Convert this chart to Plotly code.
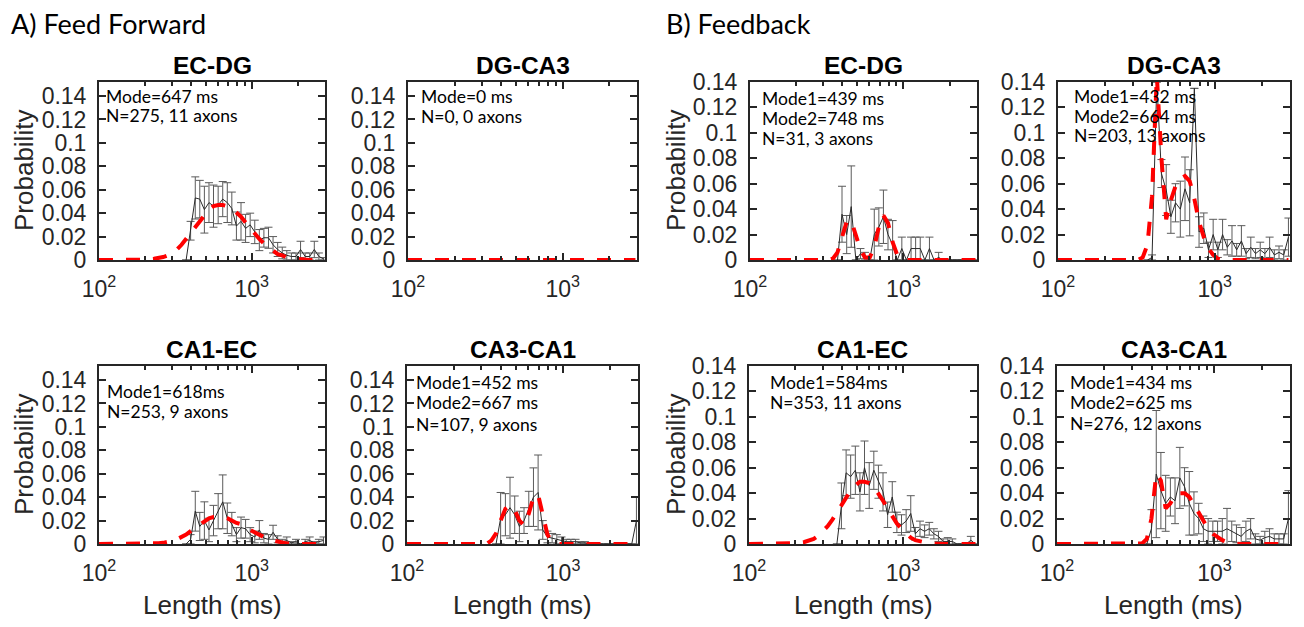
import plotly.graph_objects as go

W, H = 1304, 627

# ---------------- data ----------------
data_ms = [372, 398, 427, 457, 490, 525, 562, 603, 646, 692, 741, 794, 851, 912, 977,
           1047, 1122, 1202, 1288, 1380, 1479, 1585, 1698, 1820, 1950, 2089, 2239, 2399,
           2570, 2754, 2951]
fit_ms = [100, 150, 200, 229, 245, 263, 282, 302, 324, 347] + data_ms

# Feed forward EC-DG
ff_ecdg_p = [0, 0.025, 0.053, 0.052, 0.043, 0.049, 0.046, 0.047, 0.052, 0.049, 0.044, 0.029,
             0.033, 0.027, 0.030, 0.024, 0.017, 0.019, 0.019, 0.013, 0.009, 0.006, 0.004, 0.003,
             0.003, 0.009, 0.003, 0.003, 0.009, 0.003, 0.001]
ff_ecdg_e = [0, 0.008, 0.018, 0.016, 0.020, 0.017, 0.018, 0.016, 0.015, 0.017, 0.014, 0.012,
             0.016, 0.012, 0.010, 0.010, 0.009, 0.008, 0.009, 0.007, 0.006, 0.005, 0.004, 0.003,
             0.003, 0.007, 0.003, 0.003, 0.007, 0.003, 0.001]
ff_ecdg_fit = [0, 0, 0.0003, 0.001, 0.0015, 0.0025, 0.004, 0.006, 0.009, 0.013, 0.018, 0.023,
               0.029, 0.034, 0.039, 0.043, 0.046, 0.047, 0.047, 0.046, 0.044, 0.041, 0.037, 0.032,
               0.027, 0.022, 0.018, 0.014, 0.010, 0.008, 0.005, 0.004, 0.002, 0.0015, 0.001,
               0.0005, 0.0002, 0, 0, 0, 0]

# Feed forward DG-CA3 (no axons)
ff_dgca3_p = []
ff_dgca3_e = []
ff_dgca3_fit = [0] * 41

# Feed forward CA1-EC
ff_ca1ec_p = [0, 0.004, 0.028, 0.015, 0.020, 0.012, 0.020, 0.028, 0.036, 0.022, 0.017, 0.008,
              0.014, 0.013, 0.008, 0.006, 0.012, 0.005, 0.004, 0.010, 0.004, 0.002, 0.003, 0.001,
              0.002, 0.000, 0.002, 0.003, 0.001, 0.002, 0.003]
ff_ca1ec_e = [0, 0.004, 0.017, 0.012, 0.016, 0.010, 0.013, 0.015, 0.023, 0.013, 0.010, 0.006,
              0.009, 0.008, 0.006, 0.005, 0.008, 0.004, 0.004, 0.006, 0.003, 0.002, 0.003, 0.001,
              0.002, 0, 0.002, 0.003, 0.001, 0.002, 0.003]
ff_ca1ec_fit = [0, 0, 0.0001, 0.0004, 0.0006, 0.001, 0.0017, 0.0027, 0.004, 0.006, 0.008, 0.011,
                0.014, 0.017, 0.020, 0.022, 0.023, 0.023, 0.023, 0.022, 0.020, 0.018, 0.017,
                0.015, 0.012, 0.010, 0.008, 0.006, 0.004, 0.003, 0.002, 0.001, 0.0005, 0.0002,
                0, 0, 0, 0, 0, 0, 0]

# Feed forward CA3-CA1
ff_ca3ca1_p = [0, 0.022, 0.025, 0.031, 0.025, 0.015, 0.020, 0.030, 0.040, 0.044, 0.012, 0.006,
               0.005, 0.004, 0.003, 0.002, 0.002, 0.002, 0.001, 0.001, 0, 0, 0, 0, 0, 0, 0, 0,
               0, 0, 0.020]
ff_ca3ca1_e = [0, 0.022, 0.018, 0.026, 0.016, 0.013, 0.011, 0.015, 0.025, 0.032, 0.008, 0.005,
               0.004, 0.004, 0.003, 0.002, 0.002, 0.002, 0.001, 0.001, 0, 0, 0, 0, 0, 0, 0, 0,
               0, 0, 0.020]
ff_ca3ca1_fit = [0, 0, 0, 0, 0, 0, 0, 0, 0, 0.003, 0.009, 0.020, 0.030, 0.033, 0.029, 0.020,
                 0.016, 0.026, 0.040, 0.042, 0.025, 0.008, 0.002, 0, 0, 0, 0, 0, 0, 0, 0, 0, 0,
                 0, 0, 0, 0, 0, 0, 0, 0]

# Feedback EC-DG
fb_ecdg_p = [0, 0.036, 0.020, 0.042, 0.000, 0.005, 0.003, 0.000, 0.020, 0.026, 0.034, 0.020,
             0.012, 0.000, 0.009, 0.000, 0.009, 0.009, 0.009, 0.000, 0.009, 0.000, 0.002, 0, 0,
             0, 0, 0, 0, 0, 0]
fb_ecdg_e = [0, 0.022, 0.015, 0.032, 0, 0.004, 0.003, 0, 0.020, 0.015, 0.021, 0.012, 0.019, 0,
             0.009, 0, 0.009, 0.009, 0.009, 0, 0.009, 0, 0.004, 0, 0, 0, 0, 0, 0, 0, 0]
fb_ecdg_fit = [0, 0, 0, 0, 0, 0, 0, 0, 0, 0.001, 0.006, 0.018, 0.030, 0.031, 0.020, 0.008,
               0.002, 0.002, 0.010, 0.026, 0.035, 0.029, 0.014, 0.004, 0.001, 0, 0, 0, 0, 0, 0,
               0, 0, 0, 0, 0, 0, 0, 0, 0, 0]

# Feedback DG-CA3
fb_dgca3_p = [0, 0.002, 0.140, 0.068, 0.055, 0.034, 0.045, 0.040, 0.056, 0.045, 0.135, 0.022,
              0.025, 0.008, 0.020, 0.008, 0.020, 0.010, 0.015, 0.008, 0.015, 0.005, 0.010, 0.005,
              0.008, 0.005, 0.010, 0.004, 0.006, 0.004, 0.018]
fb_dgca3_e = [0, 0.002, 0.0, 0.011, 0.020, 0.013, 0.015, 0.022, 0.025, 0.026, 0, 0.012, 0.012,
              0.006, 0.012, 0.006, 0.012, 0.006, 0.012, 0.005, 0.012, 0.004, 0.008, 0.004, 0.006,
              0.004, 0.008, 0.004, 0.005, 0.004, 0.015]
fb_dgca3_fit = [0, 0, 0, 0, 0, 0, 0, 0, 0, 0.002, 0.012, 0.050, 0.145, 0.080, 0.032, 0.047,
                0.058, 0.064, 0.066, 0.062, 0.048, 0.030, 0.018, 0.009, 0.004, 0.001, 0, 0, 0, 0,
                0, 0, 0, 0, 0, 0, 0, 0, 0, 0, 0]

# Feedback CA1-EC
fb_ca1ec_p = [0, 0.030, 0.056, 0.053, 0.058, 0.041, 0.060, 0.046, 0.058, 0.049, 0.041, 0.023,
              0.037, 0.017, 0.015, 0.018, 0.024, 0.008, 0.012, 0.010, 0.012, 0.008, 0.006, 0.002,
              0.002, 0.002, 0.0, 0.0, 0.0, 0.003, 0.0]
fb_ca1ec_e = [0, 0.018, 0.018, 0.017, 0.019, 0.015, 0.021, 0.018, 0.015, 0.013, 0.015, 0.010,
              0.012, 0.008, 0.008, 0.009, 0.014, 0.005, 0.006, 0.005, 0.005, 0.004, 0.004, 0.002,
              0.003, 0.002, 0, 0, 0, 0.003, 0]
fb_ca1ec_fit = [0, 0, 0.0007, 0.0016, 0.0025, 0.004, 0.0065, 0.010, 0.014, 0.019, 0.025, 0.031,
                0.037, 0.042, 0.046, 0.049, 0.049, 0.048, 0.045, 0.040, 0.034, 0.028, 0.022,
                0.016, 0.012, 0.008, 0.005, 0.003, 0.002, 0.001, 0.0006, 0.0003, 0, 0, 0, 0, 0,
                0, 0, 0, 0]

# Feedback CA3-CA1
fb_ca3ca1_p = [0, 0.012, 0.055, 0.042, 0.032, 0.037, 0.034, 0.052, 0.045, 0.032, 0.024, 0.020,
               0.012, 0.010, 0.010, 0.010, 0.010, 0.012, 0.010, 0.008, 0.006, 0.010, 0.012, 0.004,
               0.003, 0.005, 0.006, 0.004, 0.004, 0.004, 0.020]
fb_ca3ca1_e = [0, 0.015, 0.050, 0.030, 0.022, 0.015, 0.018, 0.024, 0.015, 0.025, 0.017, 0.012,
               0.010, 0.010, 0.008, 0.008, 0.010, 0.016, 0.008, 0.007, 0.007, 0.008, 0.008, 0.004,
               0.003, 0.005, 0.006, 0.004, 0.004, 0.004, 0.022]
fb_ca3ca1_fit = [0, 0, 0, 0, 0, 0, 0, 0, 0, 0.0005, 0.004, 0.020, 0.055, 0.050, 0.028, 0.032,
                 0.039, 0.040, 0.040, 0.037, 0.031, 0.025, 0.018, 0.012, 0.008, 0.005, 0.003,
                 0.0015, 0.0007, 0.0003, 0, 0, 0, 0, 0, 0, 0, 0, 0, 0, 0]

titles = ["EC-DG", "DG-CA3", "EC-DG", "DG-CA3", "CA1-EC", "CA3-CA1", "CA1-EC", "CA3-CA1"]
stats = [
    ["Mode=647 ms", "N=275, 11 axons"],
    ["Mode=0 ms", "N=0, 0 axons"],
    ["Mode1=439 ms", "Mode2=748 ms", "N=31, 3 axons"],
    ["Mode1=432 ms", "Mode2=664 ms", "N=203, 13 axons"],
    ["Mode1=618ms", "N=253, 9 axons"],
    ["Mode1=452 ms", "Mode2=667 ms", "N=107, 9 axons"],
    ["Mode1=584ms", "N=353, 11 axons"],
    ["Mode1=434 ms", "Mode2=625 ms", "N=276, 12 axons"],
]
probs = [ff_ecdg_p, ff_dgca3_p, fb_ecdg_p, fb_dgca3_p, ff_ca1ec_p, ff_ca3ca1_p, fb_ca1ec_p, fb_ca3ca1_p]
errs = [ff_ecdg_e, ff_dgca3_e, fb_ecdg_e, fb_dgca3_e, ff_ca1ec_e, ff_ca3ca1_e, fb_ca1ec_e, fb_ca3ca1_e]
fits = [ff_ecdg_fit, ff_dgca3_fit, fb_ecdg_fit, fb_dgca3_fit, ff_ca1ec_fit, ff_ca3ca1_fit,
        fb_ca1ec_fit, fb_ca3ca1_fit]

y_ticks = [0, 0.02, 0.04, 0.06, 0.08, 0.1, 0.12, 0.14]
y_tick_text = ["0", "0.02", "0.04", "0.06", "0.08", "0.1", "0.12", "0.14"]
x_ticks = [100, 1000]
x_tick_text = ["10<sup>2</sup>", "10<sup>3</sup>"]
x_minor = [200, 300, 400, 500, 600, 700, 800, 900, 2000, 3000]

# ---------------- layout (pixels) ----------------
boxes = [(99, 82, 325, 260), (408, 82, 637, 260), (750, 82, 977, 260), (1058, 82, 1290, 260),
         (99, 366, 325, 544), (407, 366, 638, 544), (749, 366, 977, 544), (1057, 366, 1290, 544)]
ymax = [0.152, 0.152, 0.14, 0.14, 0.152, 0.152, 0.14, 0.14]
stat_pos = [(104, 97, 18), (419, 96, 20), (760, 98, 20), (1072, 96, 20),
            (105, 391, 20), (414, 382, 21), (768, 382, 20), (1068, 382, 20.5)]


def px(x):
    return x / W


def py(y):
    return 1 - y / H


AX = "#262626"
TICKFONT = dict(family="Liberation Sans, Arial, sans-serif", size=23, color=AX)

fig = go.Figure()
layout = dict(template="none", width=W, height=H,
              margin=dict(l=0, r=0, t=0, b=0, pad=0, autoexpand=False),
              paper_bgcolor="white", plot_bgcolor="white", showlegend=False)
annotations = []

for i in range(8):
    k = i + 1
    xa, ya = ("x" if k == 1 else f"x{k}"), ("y" if k == 1 else f"y{k}")
    x0, y0, x1, y1 = boxes[i]
    if probs[i]:
        fig.add_trace(go.Scatter(
            x=data_ms, y=probs[i], mode="lines", xaxis=xa, yaxis=ya,
            line=dict(color="#2a2a2a", width=1),
            error_y=dict(type="data", array=errs[i], visible=True, color="#5a5a5a",
                         thickness=1, width=4)))
    fig.add_trace(go.Scatter(
        x=fit_ms, y=fits[i], mode="lines", xaxis=xa, yaxis=ya,
        line=dict(color="#ff0000", width=4, dash="14px,13px")))

    layout["xaxis" if k == 1 else f"xaxis{k}"] = dict(
        domain=[px(x0), px(x1)], anchor=ya, type="log", range=[2, 3.48], automargin=False,
        tickmode="array", tickvals=x_ticks, ticktext=x_tick_text,
        ticks="inside", ticklen=7, tickwidth=2, tickcolor=AX,
        showline=True, linewidth=2, linecolor=AX, mirror="allticks",
        showgrid=False, zeroline=False, tickfont=TICKFONT, ticklabelstandoff=7,
        minor=dict(tickmode="array", tickvals=x_minor, ticks="inside", ticklen=4,
                   tickwidth=1.5, tickcolor=AX, showgrid=False))
    layout["yaxis" if k == 1 else f"yaxis{k}"] = dict(
        domain=[py(y1), py(y0)], anchor=xa, range=[0, ymax[i]], automargin=False,
        tickmode="array", tickvals=y_ticks, ticktext=y_tick_text,
        ticks="inside", ticklen=7, tickwidth=2, tickcolor=AX,
        showline=True, linewidth=2, linecolor=AX, mirror="allticks",
        showgrid=False, zeroline=False, tickfont=TICKFONT, ticklabelstandoff=6)

    # panel title
    annotations.append(dict(text=f"<b>{titles[i]}</b>", x=px((x0 + x1) / 2), y=py(y0 - 17),
                            xref="paper", yref="paper", showarrow=False,
                            xanchor="center", yanchor="middle",
                            font=dict(family="Liberation Sans, Arial, sans-serif", size=24.5,
                                      color="black")))
    # stats text
    sx, sy, step = stat_pos[i]
    for j, line in enumerate(stats[i]):
        annotations.append(dict(text=line, x=px(sx), y=py(sy + j * step),
                                xref="paper", yref="paper", showarrow=False,
                                xanchor="left", yanchor="middle",
                                font=dict(family="Lato, Carlito, sans-serif", size=17.5,
                                          color="black")))

# group headers
annotations.append(dict(text="A) Feed Forward", x=px(9), y=py(23), xref="paper", yref="paper",
                        showarrow=False, xanchor="left", yanchor="middle",
                        font=dict(family="Lato, sans-serif", size=27, color="black")))
annotations.append(dict(text="B) Feedback", x=px(664), y=py(23), xref="paper", yref="paper",
                        showarrow=False, xanchor="left", yanchor="middle",
                        font=dict(family="Lato, sans-serif", size=27, color="black")))

LABFONT = dict(family="Liberation Sans, Arial, sans-serif", size=26, color=AX)
for (xc, yc) in [(24, 171), (24, 455), (676, 171), (676, 455)]:
    annotations.append(dict(text="Probability", x=px(xc), y=py(yc), xref="paper", yref="paper",
                            showarrow=False, textangle=-90, xanchor="center", yanchor="middle",
                            font=LABFONT))
for b in [boxes[4], boxes[5], boxes[6], boxes[7]]:
    annotations.append(dict(text="Length (ms)", x=px((b[0] + b[2]) / 2), y=py(605),
                            xref="paper", yref="paper", showarrow=False,
                            xanchor="center", yanchor="middle", font=LABFONT))

layout["annotations"] = annotations
fig.update_layout(**layout)
fig.write_html("out.html")
